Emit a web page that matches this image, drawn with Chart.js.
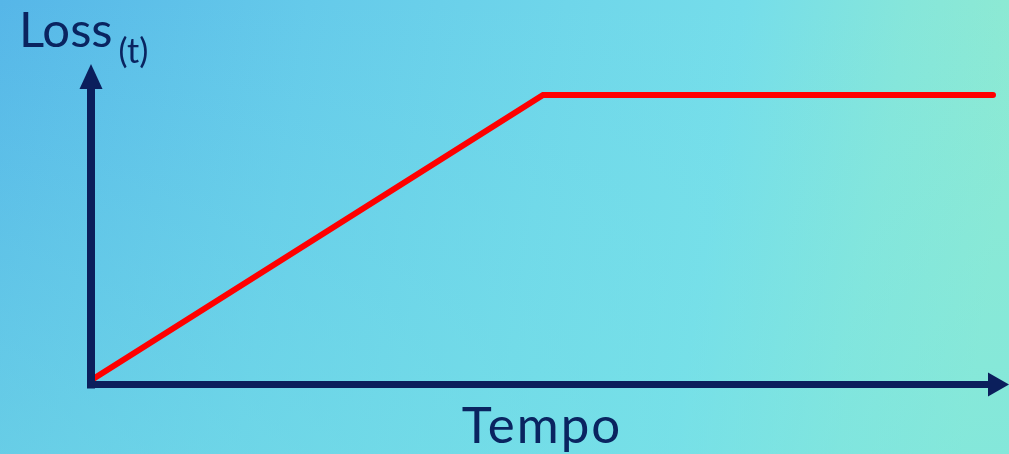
<!DOCTYPE html>
<html>
<head>
<meta charset="utf-8">
<script src="https://cdn.jsdelivr.net/npm/chart.js@4"></script>
<style>
  html, body { margin: 0; padding: 0; width: 1009px; height: 454px; overflow: hidden; }
  #wrap { position: relative; width: 1009px; height: 454px; }
</style>
</head>
<body>
<div id="wrap"><canvas id="c" width="1009" height="454"></canvas></div>
<script>
// Data
const tempo = [0, 5, 10];
const loss = [0, 10, 10];
const xTitle = 'Tempo';
const yTitleMain = 'Loss';
const yTitleSub = '(t)';

const NAVY = '#0b1f5c';
const TEXT = '#0a2460';

const bgPlugin = {
  id: 'bg',
  beforeDraw(chart) {
    const ctx = chart.ctx;
    const w = chart.width, h = chart.height;
    const g = ctx.createLinearGradient(0, 0, w, h * 0.35);
    g.addColorStop(0, '#56b6e8');
    g.addColorStop(0.3, '#65caea');
    g.addColorStop(0.55, '#6fd6ea');
    g.addColorStop(0.72, '#75ddea');
    g.addColorStop(0.88, '#86e6da');
    g.addColorStop(1, '#8eead2');
    ctx.save();
    ctx.fillStyle = g;
    ctx.fillRect(0, 0, w, h);
    const g2 = ctx.createLinearGradient(0, 0, 0, h);
    g2.addColorStop(0, 'rgba(120,230,230,0)');
    g2.addColorStop(1, 'rgba(120,228,228,0.45)');
    ctx.fillStyle = g2;
    ctx.fillRect(0, 0, w, h);
    ctx.restore();
  }
};

const axesPlugin = {
  id: 'arrowAxes',
  afterDatasetsDraw(chart) {
    const ctx = chart.ctx;
    const xs = chart.scales.x, ys = chart.scales.y;
    const x0 = xs.getPixelForValue(0) - 2;
    const y0 = ys.getPixelForValue(0) + 5.5;
    ctx.save();
    ctx.fillStyle = NAVY;
    ctx.fillRect(x0 - 4, 86, 8, y0 + 4 - 86);
    ctx.beginPath();
    ctx.moveTo(x0 - 11.5, 89);
    ctx.lineTo(x0 + 11.5, 89);
    ctx.lineTo(x0, 64);
    ctx.closePath();
    ctx.fill();
    ctx.fillRect(x0 - 4, y0 - 3.5, 990 - (x0 - 4), 7);
    ctx.beginPath();
    ctx.moveTo(988, y0 - 12);
    ctx.lineTo(988, y0 + 12);
    ctx.lineTo(1009, y0);
    ctx.closePath();
    ctx.fill();
    ctx.restore();
  },
  afterDraw(chart) {
    const ctx = chart.ctx;
    ctx.save();
    ctx.fillStyle = TEXT;
    ctx.textBaseline = 'alphabetic';
    ctx.textAlign = 'left';
    ctx.font = '49px Lato, "Open Sans", sans-serif';
    ctx.fillText(yTitleMain, 19, 47);
    const wMain = ctx.measureText(yTitleMain).width;
    ctx.font = '34px Lato, "Open Sans", sans-serif';
    ctx.fillText(yTitleSub, 19 + wMain + 6, 63);
    ctx.font = '51px Lato, "Open Sans", sans-serif';
    ctx.letterSpacing = '2px';
    ctx.textAlign = 'center';
    const xs = chart.scales.x;
    ctx.fillText(xTitle, xs.getPixelForValue(5) - 1, 443);
    ctx.restore();
  }
};

new Chart(document.getElementById('c'), {
  type: 'line',
  data: {
    datasets: [{
      data: tempo.map((t, i) => ({ x: t, y: loss[i] })),
      borderColor: '#ff0000',
      borderWidth: 6,
      borderCapStyle: 'round',
      borderJoinStyle: 'miter',
      pointRadius: 0,
      tension: 0,
      fill: false,
      clip: false
    }]
  },
  options: {
    responsive: false,
    animation: false,
    events: [],
    layout: { padding: { left: 93, right: 16, top: 95, bottom: 75 } },
    plugins: { legend: { display: false }, tooltip: { enabled: false }, title: { display: false } },
    scales: {
      x: { type: 'linear', min: 0, max: 10, display: false },
      y: { type: 'linear', min: 0, max: 10, display: false }
    }
  },
  plugins: [bgPlugin, axesPlugin]
});
</script>
</body>
</html>
